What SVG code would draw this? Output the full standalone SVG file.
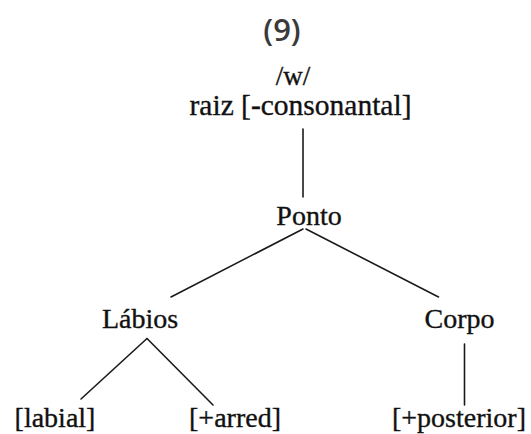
<svg xmlns="http://www.w3.org/2000/svg" width="531" height="434" viewBox="0 0 531 434">
  <style>
    .lbl { font-family: "Liberation Serif", "Times New Roman", serif; font-size: 28px; fill: #111; stroke: #111; stroke-width: 0.35; text-anchor: middle; }
    .num { font-family: "Open Sans", "Noto Sans", sans-serif; font-size: 31px; font-weight: 600; fill: #3a3a3a; text-anchor: middle; }
    .edge { stroke: #1a1a1a; stroke-width: 1.6; fill: none; stroke-linecap: round; }
  </style>
  <rect width="531" height="434" fill="#ffffff"/>
  <text class="num" x="282" y="41">(9)</text>

  <g id="connectors">
    <line class="edge" x1="303" y1="129" x2="303" y2="197"/>
    <line class="edge" x1="303" y1="229" x2="171" y2="297"/>
    <line class="edge" x1="306" y1="229" x2="438.5" y2="297"/>
    <line class="edge" x1="147" y1="338.5" x2="81" y2="399"/>
    <line class="edge" x1="147" y1="338.5" x2="213" y2="405"/>
    <line class="edge" x1="464.5" y1="344" x2="464.5" y2="405"/>
  </g>

  <g id="root">
    <text class="lbl" x="293" y="85" style="font-size:27px">/w/</text>
    <text class="lbl" x="300.5" y="115" style="font-size:29.5px">raiz [-consonantal]</text>
  </g>
  <g id="ponto"><text class="lbl" x="309" y="225">Ponto</text></g>
  <g id="labios"><text class="lbl" x="140" y="328">Lábios</text></g>
  <g id="corpo"><text class="lbl" x="459.5" y="328">Corpo</text></g>
  <g id="labial"><text class="lbl" x="55" y="427">[labial]</text></g>
  <g id="arred"><text class="lbl" x="235" y="427">[+arred]</text></g>
  <g id="posterior"><text class="lbl" x="459" y="427">[+posterior]</text></g>
</svg>
